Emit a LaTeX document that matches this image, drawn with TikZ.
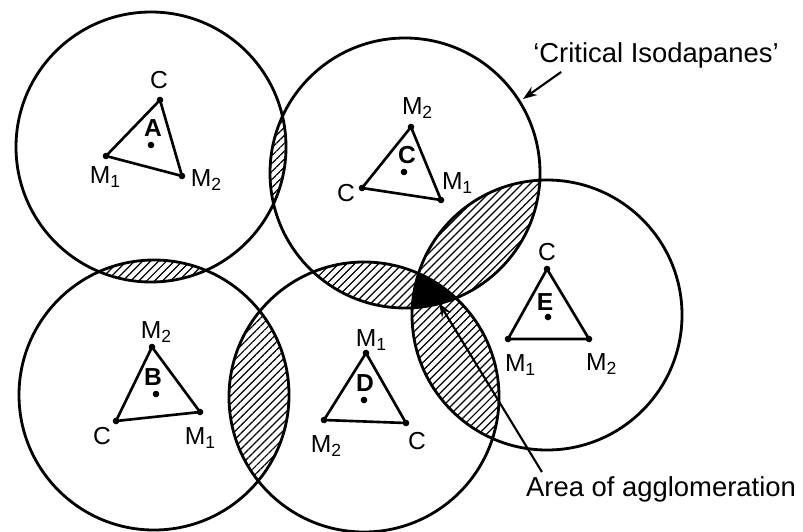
\documentclass[tikz,border=0pt]{standalone}
\usepackage{fontspec}
\setmainfont{Liberation Sans}
\usetikzlibrary{patterns.meta,arrows.meta}

\tikzset{
  isoline/.style={line width=0.8pt},
  tri/.style={line width=0.75pt, line join=round},
  hatch/.style={pattern={Lines[angle=45,distance=1.6pt,line width=0.35pt]}},
  vlbl/.style={font=\fontsize{7}{8}\selectfont, inner sep=0pt},
  plbl/.style={font=\fontsize{7}{8}\selectfont\bfseries, inner sep=0pt},
  note/.style={font=\fontsize{7.8}{9}\selectfont, inner sep=1pt},
  pointer/.style={line width=0.6pt, -{Stealth[length=1.4mm,width=1mm]}},
}
\def\rad{13.5mm}

\begin{document}
\begin{tikzpicture}[x=0.1mm,y=-0.1mm]
        \useasboundingbox (0,0) rectangle (803,531);

        % centres of the critical isodapanes
        \foreach \n/\x/\y in {A/151/147, B/154/395, C/405/173, D/364/397, E/547/315}
          \coordinate (\n) at (\x,\y);

        % hatched overlaps
        \foreach \p/\q in {A/B, A/C, B/D, C/D, C/E, D/E} {
          \begin{scope}
            \clip (\p) circle[radius=\rad];
            \fill[hatch] (\q) circle[radius=\rad];
          \end{scope}
        }
        % area of agglomeration
        \begin{scope}
          \clip (C) circle[radius=\rad];
          \clip (D) circle[radius=\rad];
          \fill (E) circle[radius=\rad];
        \end{scope}

        \foreach \n in {A,B,C,D,E}
          \draw[isoline] (\n) circle[radius=\rad];

        % locational triangles
        \coordinate (A-c) at (160,100);  \coordinate (A-m1) at (106,156);
        \coordinate (A-m2) at (182,176); \coordinate (A-p) at (151,145);
        \coordinate (B-c) at (116,421);  \coordinate (B-m1) at (200,412);
        \coordinate (B-m2) at (152,347); \coordinate (B-p) at (156,394);
        \coordinate (C-c) at (362,188);  \coordinate (C-m1) at (441,200);
        \coordinate (C-m2) at (411,127); \coordinate (C-p) at (404,172);
        \coordinate (D-c) at (406,423);  \coordinate (D-m1) at (366,353);
        \coordinate (D-m2) at (324,420); \coordinate (D-p) at (364,400);
        \coordinate (E-c) at (547,269);  \coordinate (E-m1) at (508,339);
        \coordinate (E-m2) at (589,339); \coordinate (E-p) at (548,317);

        \foreach \t in {A,B,C,D,E} {
          \draw[tri] (\t-c) -- (\t-m1) -- (\t-m2) -- cycle;
          \foreach \v in {c,m1,m2,p}
            \fill (\t-\v) circle[radius=3.3];
        }

        \node[vlbl] (A-lc) at (159,80) {C};
        \node[vlbl] (A-lm1) at (106,177) {M\textsubscript{1}};
        \node[vlbl] (A-lm2) at (207,180) {M\textsubscript{2}};
        \node[plbl] (A-lp) at (153,128) {A};

        \node[vlbl] (B-lc) at (102,436) {C};
        \node[vlbl] (B-lm1) at (201,438) {M\textsubscript{1}};
        \node[vlbl] (B-lm2) at (157,332) {M\textsubscript{2}};
        \node[plbl] (B-lp) at (153,377) {B};

        \node[vlbl] (C-lc) at (346,193) {C};
        \node[vlbl] (C-lm1) at (458,183) {M\textsubscript{1}};
        \node[vlbl] (C-lm2) at (418,108) {M\textsubscript{2}};
        \node[plbl] (C-lp) at (407,155) {C};

        \node[vlbl] (D-lc) at (417,441) {C};
        \node[vlbl] (D-lm1) at (372,340) {M\textsubscript{1}};
        \node[vlbl] (D-lm2) at (327,446) {M\textsubscript{2}};
        \node[plbl] (D-lp) at (365,383) {D};

        \node[vlbl] (E-lc) at (547,252) {C};
        \node[vlbl] (E-lm1) at (521,365) {M\textsubscript{1}};
        \node[vlbl] (E-lm2) at (602,364) {M\textsubscript{2}};
        \node[plbl] (E-lp) at (545,302) {E};

        % annotations
        \node[note] (crit) at (656,55) {‘Critical Isodapanes’};
        \coordinate (isotip) at (523,99);
        \draw[pointer] ([xshift=3.2mm]crit.south west) -- (isotip);

        \node[note] (agg) at (661,489) {Area of agglomeration};
        \coordinate (aggtip) at (439,303);
        \draw[pointer] ([xshift=2mm]agg.north west) -- (aggtip);
      \end{tikzpicture}
\end{document}
